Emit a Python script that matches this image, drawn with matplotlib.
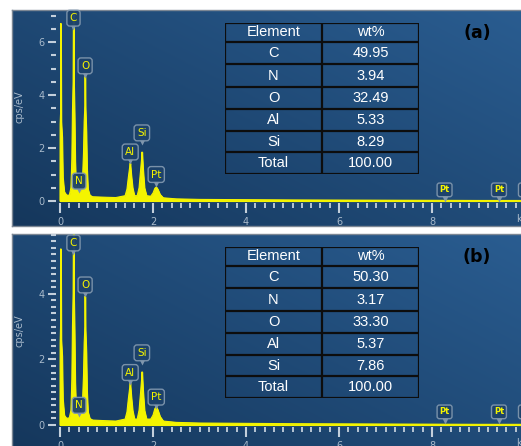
import numpy as np
import matplotlib
matplotlib.use("Agg")
import matplotlib.pyplot as plt
from matplotlib.ticker import MultipleLocator
from matplotlib.transforms import offset_copy

# spectrum (keV vs cps/eV)
energy = [0.000, 0.003, 0.012, 0.018, 0.026, 0.045, 0.060, 0.090, 0.140, 0.200,
          0.235, 0.255, 0.268, 0.282, 0.290, 0.298, 0.312, 0.325, 0.345, 0.370,
          0.395, 0.410, 0.430, 0.460, 0.480, 0.505, 0.520, 0.535, 0.540, 0.548,
          0.565, 0.580, 0.600, 0.640, 0.700, 0.850, 1.000, 1.200, 1.400, 1.440,
          1.470, 1.500, 1.510, 1.530, 1.560, 1.600, 1.660, 1.700, 1.730, 1.755,
          1.765, 1.785, 1.815, 1.860, 1.950, 2.000, 2.040, 2.070, 2.100, 2.150,
          2.220, 2.500, 3.000, 4.000, 5.000, 6.000, 7.000, 8.000, 9.000, 10.000]

cps_a = [0.00, 2.90, 3.30, 6.70, 3.00, 2.40, 0.90, 0.35, 0.22, 0.22,
         0.50, 1.60, 3.40, 4.50, 7.60, 4.50, 3.30, 1.50, 0.55, 0.40,
         0.60, 0.45, 0.35, 0.40, 0.60, 1.80, 3.00, 3.60, 4.70, 3.50,
         2.60, 1.20, 0.45, 0.22, 0.16, 0.15, 0.14, 0.13, 0.20, 0.45,
         0.90, 1.30, 1.43, 1.00, 0.50, 0.20, 0.20, 0.50, 1.10, 1.60,
         1.85, 1.20, 0.50, 0.20, 0.18, 0.30, 0.48, 0.53, 0.45, 0.25,
         0.12, 0.08, 0.06, 0.05, 0.04, 0.035, 0.03, 0.025, 0.02, 0.02]

cps_b = [0.00, 2.50, 3.00, 5.37, 2.60, 2.10, 0.80, 0.30, 0.20, 0.22,
         0.45, 1.40, 3.00, 4.00, 6.20, 4.00, 2.90, 1.30, 0.50, 0.38,
         0.55, 0.42, 0.33, 0.38, 0.55, 1.50, 2.50, 3.00, 3.93, 2.90,
         2.20, 1.00, 0.40, 0.20, 0.15, 0.14, 0.13, 0.12, 0.18, 0.40,
         0.80, 1.15, 1.28, 0.90, 0.45, 0.18, 0.18, 0.45, 0.95, 1.40,
         1.62, 1.05, 0.45, 0.18, 0.18, 0.30, 0.50, 0.55, 0.47, 0.26,
         0.12, 0.08, 0.06, 0.05, 0.04, 0.035, 0.03, 0.025, 0.02, 0.02]

# peak markers
peak_names = ['C', 'N', 'O', 'Al', 'Si', 'Pt', 'Pt', 'Pt', 'Pt']
peak_kev = [0.29, 0.41, 0.54, 1.51, 1.76, 2.07, 8.27, 9.44, 10.02]
label_y_a = [6.9, 0.75, 5.1, 1.85, 2.57, 1.0, 0.42, 0.42, 0.42]
label_y_b = [5.55, 0.6, 4.27, 1.6, 2.2, 0.85, 0.4, 0.4, 0.4]

# composition tables
table_elements = ['C', 'N', 'O', 'Al', 'Si', 'Total']
wt_a = [49.95, 3.94, 32.49, 5.33, 8.29, 100.00]
wt_b = [50.30, 3.17, 33.30, 5.37, 7.86, 100.00]

W, H = 521, 446
fig = plt.figure(figsize=(W / 100, H / 100), dpi=100)
fig.patch.set_facecolor('white')

YEL = '#f4f400'
TICK = '#c3cfdb'
LAB = '#a9bacb'


def px_axes(x0, y0, x1, y1, **kw):
    # axes from pixel box (top-left origin)
    return fig.add_axes([x0 / W, 1 - y1 / H, (x1 - x0) / W, (y1 - y0) / H], **kw)


def panel(top, base, scale, ymajor, yminor, cps, label_y, wt, tag):
    bottom = top + 216
    bg = px_axes(12, top, 530, bottom)
    gx, gy = np.meshgrid(np.linspace(0, 1, 200), np.linspace(0, 1, 200))
    g = 0.55 * gx + 0.45 * gy
    c0 = np.array([0x15, 0x37, 0x5c]) / 255
    c1 = np.array([0x2a, 0x5d, 0x91]) / 255
    img = c0[None, None, :] * (1 - g[..., None]) + c1[None, None, :] * g[..., None]
    bg.imshow(img, extent=[0, 1, 0, 1], aspect='auto', origin='lower')
    bg.set_xticks([])
    bg.set_yticks([])
    for s in bg.spines.values():
        s.set_color('#7c8794')
        s.set_linewidth(1)

    # data axes: x 0 keV at px 60, 46.5 px per keV
    xl, xr = 56, 521
    yb = base + 2
    ax = px_axes(xl, top, xr, yb)
    ax.set_facecolor('none')
    ax.set_xlim((xl - 60) / 46.5, (xr - 60) / 46.5)
    ax.set_ylim(-(yb - base) / scale, (base - top) / scale)
    for s in ax.spines.values():
        s.set_visible(False)

    ax.fill_between(energy, 0, cps, color=YEL, lw=0.8, zorder=3)
    ax.plot(energy, cps, color=YEL, lw=0.8, zorder=3)

    ax.xaxis.set_major_locator(MultipleLocator(2))
    ax.xaxis.set_minor_locator(MultipleLocator(0.2))
    ax.yaxis.set_major_locator(MultipleLocator(ymajor))
    ax.yaxis.set_minor_locator(MultipleLocator(yminor))
    ax.tick_params(axis='x', which='major', length=7, width=1.5, color=TICK,
                   labelcolor=LAB, labelsize=7, pad=3)
    ax.tick_params(axis='x', which='minor', length=3.5, width=1.3, color=TICK)
    ax.tick_params(axis='y', which='major', length=6, width=1.5, color=TICK,
                   labelcolor=LAB, labelsize=7, pad=2)
    ax.tick_params(axis='y', which='minor', length=3.5, width=1.5, color=TICK)
    ax.set_ylabel('cps/eV', color=LAB, fontsize=7, labelpad=10)
    ax.text(9.8, -18 / scale, 'keV', color=LAB, fontsize=7,
            ha='left', va='center', clip_on=False)

    # peak labels with pointer
    tri = offset_copy(ax.transData, fig=fig, y=-9, units='dots')
    for name, e, ly in zip(peak_names, peak_kev, label_y):
        small = e > 5
        ax.text(e, ly, name, ha='center', va='center', color=YEL,
                fontsize=6 if small else 7.5, fontweight='bold' if small else 'normal',
                zorder=5, clip_on=False,
                bbox=dict(boxstyle='round,pad=0.28', fc='#1d426b', ec='#7f96ad',
                          lw=1, alpha=0.95))
        ax.plot(e, ly, marker='v', ms=4, color='#7f96ad', mec='none',
                transform=tri, zorder=4, clip_on=False)

    ax.text((477 - 60) / 46.5, (base - (top + 23)) / scale, tag,
            ha='center', va='center', fontsize=12.5, fontweight='bold', color='black')

    # table
    rows = [0, 19, 41, 64, 86, 108, 129, 151]
    tb = px_axes(225, top + 13, 419, top + 13 + rows[-1])
    tb.set_xlim(0, 194)
    tb.set_ylim(rows[-1], 0)
    tb.axis('off')
    tb.patch.set_alpha(0)
    for r in rows:
        tb.plot([0, 194], [r, r], color='#0d0d0d', lw=1.6, solid_capstyle='projecting')
    for c in [0, 97, 194]:
        tb.plot([c, c], [0, rows[-1]], color='#0d0d0d', lw=1.6)
    cells = [('Element', 'wt%')] + [(el, f'{v:.2f}') for el, v in zip(table_elements, wt)]
    for i, (c1, c2) in enumerate(cells):
        yc = (rows[i] + rows[i + 1]) / 2
        tb.text(48.5, yc, c1, ha='center', va='center', color='white', fontsize=10.5,
                family='Liberation Sans')
        tb.text(145.5, yc, c2, ha='center', va='center', color='white', fontsize=10.5,
                family='Liberation Sans')
    return ax


panel(10, 201, 26.5, 2, 0.5, cps_a, label_y_a, wt_a, '(a)')
panel(234, 425, 32.8, 2, 0.2, cps_b, label_y_b, wt_b, '(b)')

fig.savefig('out.png', dpi=100)
